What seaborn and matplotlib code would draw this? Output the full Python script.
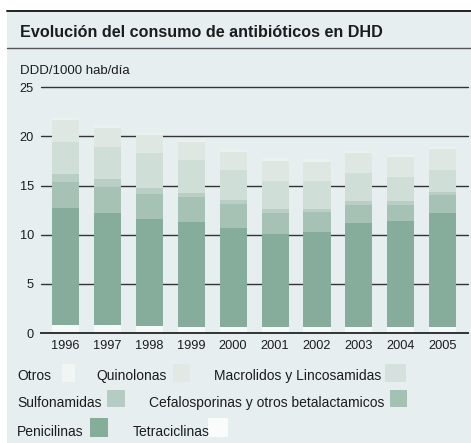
import matplotlib
matplotlib.use("Agg")
import matplotlib.pyplot as plt
from matplotlib.patches import Rectangle
from matplotlib.lines import Line2D
import numpy as np
import pandas as pd
import seaborn as sns

# Antibiotic consumption, DDD per 1000 inhabitants per day
years = ["1996", "1997", "1998", "1999", "2000", "2001", "2002", "2003", "2004", "2005"]
tetraciclinas = [0.80, 0.80, 0.70, 0.60, 0.60, 0.60, 0.60, 0.60, 0.60, 0.60]
penicilinas = [11.90, 11.43, 10.89, 10.71, 10.12, 9.52, 9.70, 10.55, 10.81, 11.65]
cefalosporinas = [2.70, 2.64, 2.58, 2.54, 2.36, 2.13, 2.05, 1.85, 1.64, 1.75]
sulfonamidas = [0.82, 0.78, 0.57, 0.43, 0.49, 0.35, 0.25, 0.43, 0.38, 0.30]
macrolidos = [3.16, 3.30, 3.52, 3.30, 2.98, 2.85, 2.88, 2.89, 2.40, 2.26]
quinolonas = [2.27, 1.92, 1.85, 1.85, 1.88, 2.05, 1.95, 1.99, 2.04, 2.15]
otros = [0.25, 0.25, 0.25, 0.25, 0.25, 0.25, 0.25, 0.25, 0.25, 0.25]

# stacking order, bottom to top
series = [
    ("Tetraciclinas", tetraciclinas, "#f6f9f9"),
    ("Penicilinas", penicilinas, "#86ad9b"),
    ("Cefalosporinas y otros betalactamicos", cefalosporinas, "#a5c2b5"),
    ("Sulfonamidas", sulfonamidas, "#b9cfc6"),
    ("Macrolidos y Lincosamidas", macrolidos, "#d0ded8"),
    ("Quinolonas", quinolonas, "#dfe7e3"),
    ("Otros", otros, "#ecf1ef"),
]

yticks = [0, 5, 10, 15, 20, 25]
title = "Evolución del consumo de antibióticos en DHD"
unit_label = "DDD/1000 hab/día"

sns.set_theme(style="white")
plt.rcParams["font.family"] = ["Liberation Sans", "DejaVu Sans"]

W, H = 471, 443
fig = plt.figure(figsize=(W / 100, H / 100), dpi=100)
fig.patch.set_facecolor("white")

BG = "#e6eef0"
TXT = "#1c1c1c"


def fx(px):
    return px / W


def fy(py):
    return 1 - py / H


# panel background and header rules
fig.patches.append(Rectangle((fx(7), 0), 1 - fx(7), fy(10.5), transform=fig.transFigure,
                             facecolor=BG, edgecolor="none", zorder=-10))
fig.lines.append(Line2D([fx(7), 1], [fy(10.7), fy(10.7)], transform=fig.transFigure,
                        color="#222222", lw=1.4, zorder=-5))
fig.lines.append(Line2D([fx(7), 1], [fy(47.7), fy(47.7)], transform=fig.transFigure,
                        color="#555555", lw=1.0, zorder=-5))
fig.text(fx(20.5), fy(36.8), title, fontsize=11.6, fontweight="bold", color=TXT,
         ha="left", va="baseline")
fig.text(fx(20.5), fy(74), unit_label, fontsize=9.5, color=TXT, ha="left", va="baseline")

ax = fig.add_axes([fx(41), fy(333), fx(468) - fx(41), fy(87.2) - fy(333)])
ax.set_facecolor(BG)

df = pd.DataFrame({"year": years})
cum = np.zeros(len(years))
tops = []
for name, vals, col in series:
    cum = cum + np.array(vals)
    tops.append((name, cum.copy(), col))

# draw cumulative heights from the tallest down so each layer shows its own band
for name, top, col in reversed(tops):
    df["h"] = top
    sns.barplot(data=df, x="year", y="h", color=col, saturation=1, width=0.645,
                linewidth=0, ax=ax, zorder=3)

ax.set_xlim(-0.58, 9.6)
ax.set_ylim(0, 25)
ax.set_yticks(yticks)
ax.set_yticklabels([str(v) for v in yticks])
ax.set_xlabel("")
ax.set_ylabel("")
for s in ["top", "right", "left"]:
    ax.spines[s].set_visible(False)
ax.spines["bottom"].set_color("#333333")
ax.spines["bottom"].set_linewidth(1.4)
ax.spines["bottom"].set_zorder(5)

for v in yticks[1:]:
    ax.axhline(v, color="#333333", lw=1.0, zorder=1, clip_on=False)

ax.tick_params(axis="both", length=0, labelsize=9.2, labelcolor=TXT)
ax.tick_params(axis="y", pad=5)
ax.tick_params(axis="x", pad=5)

# legend laid out in three rows
legend_items = [
    ("Otros", 17.3, 62, 75, 380, 364, 382, "#f1f5f3"),
    ("Quinolonas", 96.7, 173, 190, 380, 364, 382, "#e2e9e5"),
    ("Macrolidos y Lincosamidas", 214, 385, 406, 380, 364, 382, "#d5e1dc"),
    ("Sulfonamidas", 17.3, 107, 125, 407.3, 390, 407, "#b4ccc1"),
    ("Cefalosporinas y otros betalactamicos", 149, 390, 407, 407.3, 390, 407, "#a4c1b3"),
    ("Penicilinas", 17.3, 90, 108, 436, 418, 437, "#86ac9a"),
    ("Tetraciclinas", 133, 208, 228, 436, 418, 437, "#fafcfc"),
]
for label, tx, sx0, sx1, by, sy0, sy1, col in legend_items:
    fig.text(fx(tx), fy(by), label, fontsize=10, color=TXT, ha="left", va="baseline")
    fig.patches.append(Rectangle((fx(sx0), fy(sy1)), fx(sx1) - fx(sx0), fy(sy0) - fy(sy1),
                                 transform=fig.transFigure, facecolor=col,
                                 edgecolor="none", zorder=2))

fig.savefig("out.png", dpi=100)
